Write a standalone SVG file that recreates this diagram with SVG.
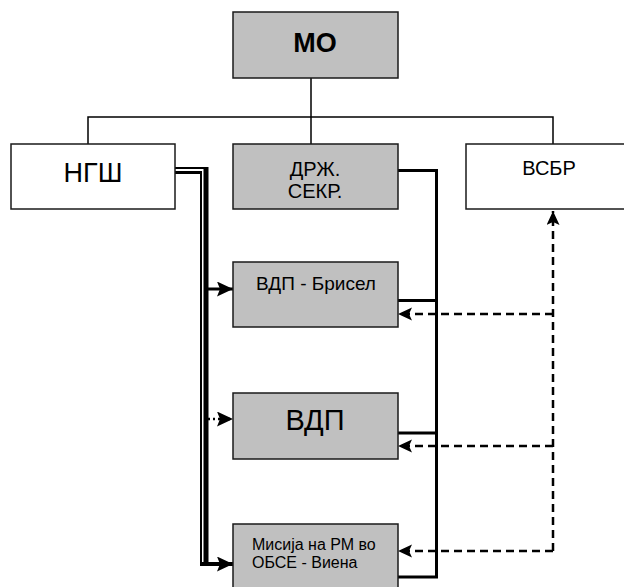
<svg xmlns="http://www.w3.org/2000/svg" width="624" height="587" viewBox="0 0 624 587">
<defs>
<style>
.box{stroke:#1a1a1a;stroke-width:1.5}
.g{fill:#c0c0c0}
.w{fill:#ffffff}
.t{font-family:"Liberation Sans",Arial,sans-serif;fill:#000;text-anchor:middle}
.thin{fill:none;stroke:#000;stroke-width:1.5}
.solid{fill:none;stroke:#000;stroke-width:3}
.dash{fill:none;stroke:#000;stroke-width:2.5;stroke-dasharray:8 5}
</style>
<marker id="ah" markerUnits="userSpaceOnUse" markerWidth="17" markerHeight="16" refX="16" refY="7.5" orient="auto">
<path d="M0,0 L16,7.5 L0,15 L3,7.5 z" fill="#000"/>
</marker>
<marker id="ahs" markerUnits="userSpaceOnUse" markerWidth="15" markerHeight="14" refX="14" refY="6.5" orient="auto">
<path d="M0,0 L14,6.5 L0,13 L3,6.5 z" fill="#000"/>
</marker>
</defs>
<rect width="624" height="587" fill="#fff"/>
<g id="connectors">
<path class="thin" d="M311,78 V144 M88,144 V117 H553 V144"/>
<path d="M175,168 H206" fill="none" stroke="#000" stroke-width="2"/>
<path d="M206,167 V566" fill="none" stroke="#000" stroke-width="5"/>
<path d="M175,172.5 H201" fill="none" stroke="#000" stroke-width="3"/>
<path d="M201,171 V566" fill="none" stroke="#000" stroke-width="2"/>
<path d="M200,564 H233" fill="none" stroke="#000" stroke-width="4" marker-end="url(#ah)"/>
<path d="M207,289 H233" fill="none" stroke="#000" stroke-width="3" marker-end="url(#ah)"/>
<path d="M208,419 H233" fill="none" stroke="#000" stroke-width="2.5" stroke-dasharray="2 3" marker-end="url(#ah)"/>
<path class="solid" d="M398,170.5 H436.5 V577 H398 M398,300.5 H436.5 M398,433 H436.5"/>
<path class="dash" d="M553,551 V211" marker-end="url(#ahs)"/>
<path class="dash" d="M553,314 H398" marker-end="url(#ahs)"/>
<path class="dash" d="M553,446 H398" marker-end="url(#ahs)"/>
<path class="dash" d="M553,551 H398" marker-end="url(#ahs)"/>
</g>
<g id="mo">
<rect class="box g" x="233" y="12" width="165" height="66"/>
<text class="t" x="315" y="52" font-size="27" font-weight="bold">МО</text>
</g>
<g id="ngsh">
<rect class="box w" x="11" y="144" width="164" height="65"/>
<text class="t" x="93" y="182" font-size="27">НГШ</text>
</g>
<g id="drzh">
<rect class="box g" x="233" y="144" width="165" height="65"/>
<text class="t" x="315" y="176" font-size="20">ДРЖ.</text>
<text class="t" x="315" y="198" font-size="20">СЕКР.</text>
</g>
<g id="vsbr">
<rect class="box w" x="466" y="144" width="170" height="65"/>
<text class="t" x="549" y="175" font-size="20">ВСБР</text>
</g>
<g id="vdp-brisel">
<rect class="box g" x="233" y="262" width="165" height="65"/>
<text class="t" x="316" y="290" font-size="19">ВДП - Брисел</text>
</g>
<g id="vdp">
<rect class="box g" x="233" y="393" width="165" height="66"/>
<text class="t" x="315" y="430" font-size="29">ВДП</text>
</g>
<g id="misija">
<rect class="box g" x="233" y="524" width="165" height="70"/>
<text class="t" x="252" y="550" font-size="16" style="text-anchor:start">Мисија на РМ во</text>
<text class="t" x="252" y="568" font-size="16" style="text-anchor:start">ОБСЕ - Виена</text>
</g>
</svg>
